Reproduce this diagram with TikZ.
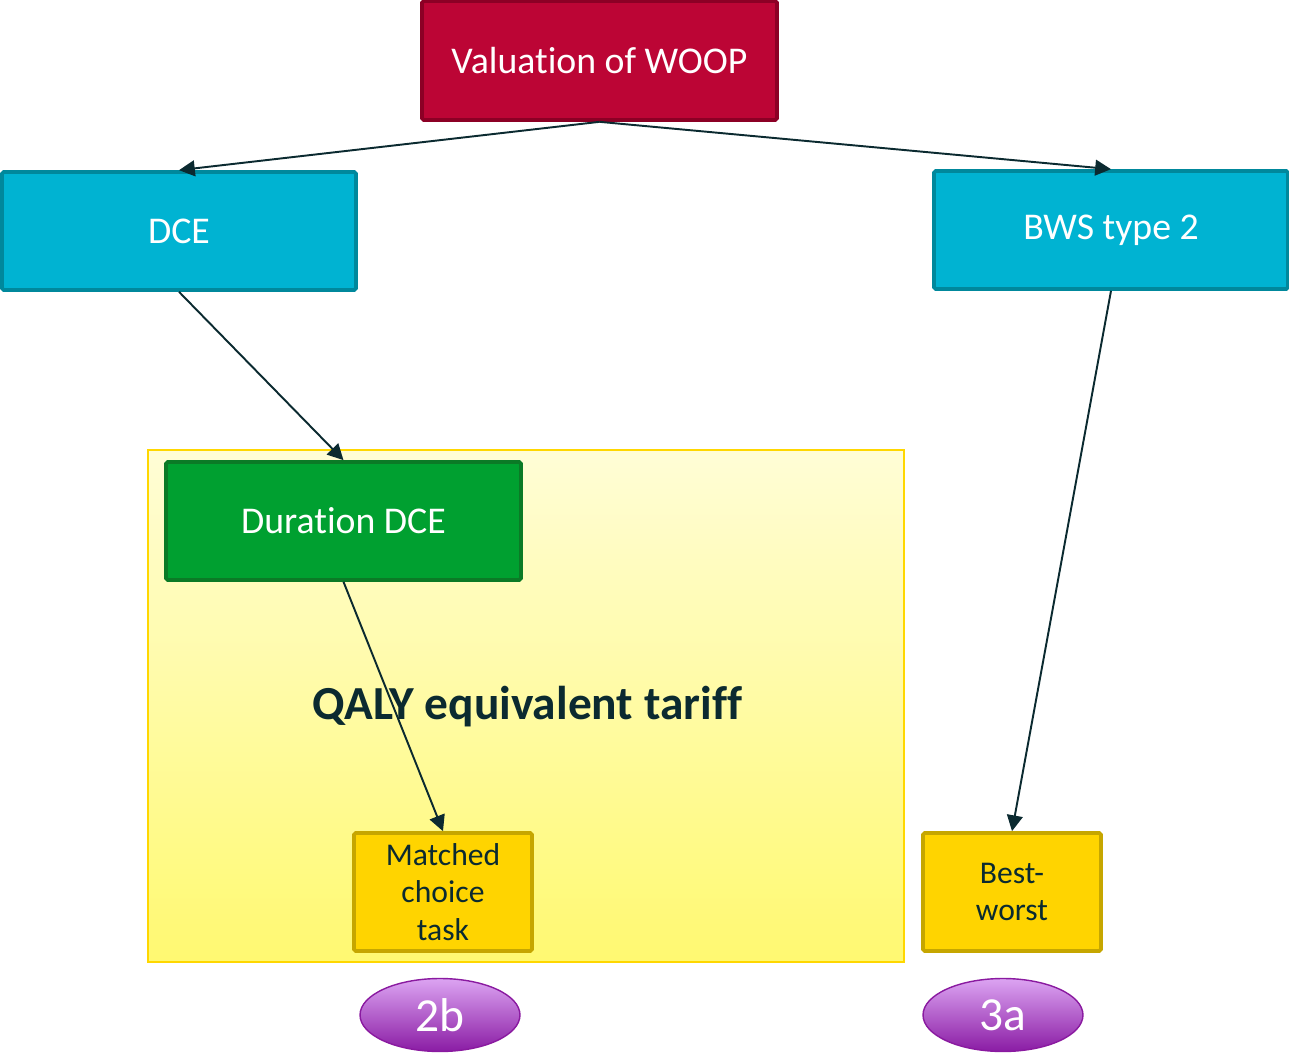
\documentclass[tikz,border=0pt]{standalone}
\usepackage{fontspec}
\setmainfont{Carlito}[Ligatures=NoCommon]
\usetikzlibrary{arrows.meta,shapes.geometric}
\definecolor{valfill}{HTML}{BC0535}
\definecolor{valdraw}{HTML}{8C0025}
\definecolor{cyanfill}{HTML}{00B3D2}
\definecolor{cyandraw}{HTML}{00889C}
\definecolor{grnfill}{HTML}{00A030}
\definecolor{grndraw}{HTML}{0B7A26}
\definecolor{yelfill}{HTML}{FFD400}
\definecolor{yeldraw}{HTML}{C6A600}
\definecolor{bgtop}{HTML}{FFFDD6}
\definecolor{bgbot}{HTML}{FFF971}
\definecolor{bgdraw}{HTML}{FFD700}
\definecolor{arrowc}{HTML}{0B2A30}
\definecolor{purtop}{HTML}{DCA4F2}
\definecolor{purbot}{HTML}{8A1CA4}
\definecolor{purdraw}{HTML}{8A1AA0}
\tikzset{
  box/.style={draw, line width=2.1pt, rounded corners=1pt, inner sep=0pt, font=\fontsize{21.5}{26}\selectfont, text=white},
  smallbox/.style={draw=yeldraw, fill=yelfill, line width=2.1pt, rounded corners=1pt, inner sep=0pt, align=center, text=arrowc, font=\fontsize{18}{21.5}\selectfont, minimum width=3.56cm, minimum height=2.36cm},
  conn/.style={draw=arrowc, line width=1.1pt, -{Triangle[length=9pt,width=9pt]}},
  badge/.style={ellipse, draw=purdraw, line width=0.8pt, top color=purtop, bottom color=purbot, minimum width=3.2cm, minimum height=1.46cm, inner sep=0pt, text=white, font=\fontsize{27}{32}\selectfont}
}
\begin{document}
\begin{tikzpicture}[x=0.02cm, y=-0.02cm]
\useasboundingbox (0,0) rectangle (1289,1054);
% yellow background panel
\node[draw=bgdraw, line width=1.2pt, top color=bgtop, bottom color=bgbot, minimum width=15.12cm, minimum height=10.24cm, inner sep=0pt] (panel) at (526,706) {};
\node[font=\fontsize{27}{32}\selectfont\bfseries, text=arrowc] (qaly) at (527,707) {QALY equivalent tariff};
% boxes
\node[box, fill=valfill, draw=valdraw, minimum width=7.1cm, minimum height=2.38cm] (val) at (599.5,60.5) {Valuation of WOOP};
\node[box, fill=cyanfill, draw=cyandraw, minimum width=7.08cm, minimum height=2.36cm] (dce) at (179,231) {DCE};
\node[box, fill=cyanfill, draw=cyandraw, minimum width=7.08cm, minimum height=2.36cm] (bws) at (1111,230) {BWS type 2};
\node[box, fill=grnfill, draw=grndraw, minimum width=7.1cm, minimum height=2.36cm] (dur) at (343.5,521) {Duration DCE};
\node[smallbox] (mct) at (443,892) {Matched\\choice\\task};
\node[smallbox] (bw) at (1012,892) {Best-\\worst};
% badges
\node[badge] (b2) at (440,1015) {2b};
\node[badge] (b3) at (1003,1015) {3a};
% connectors
\draw[conn] (val.south) -- (dce.north);
\draw[conn] (val.south) -- (bws.north);
\draw[conn] (dce.south) -- (dur.north);
\draw[conn] (dur.south) -- (mct.north);
\draw[conn] (bws.south) -- (bw.north);
\end{tikzpicture}
\end{document}
